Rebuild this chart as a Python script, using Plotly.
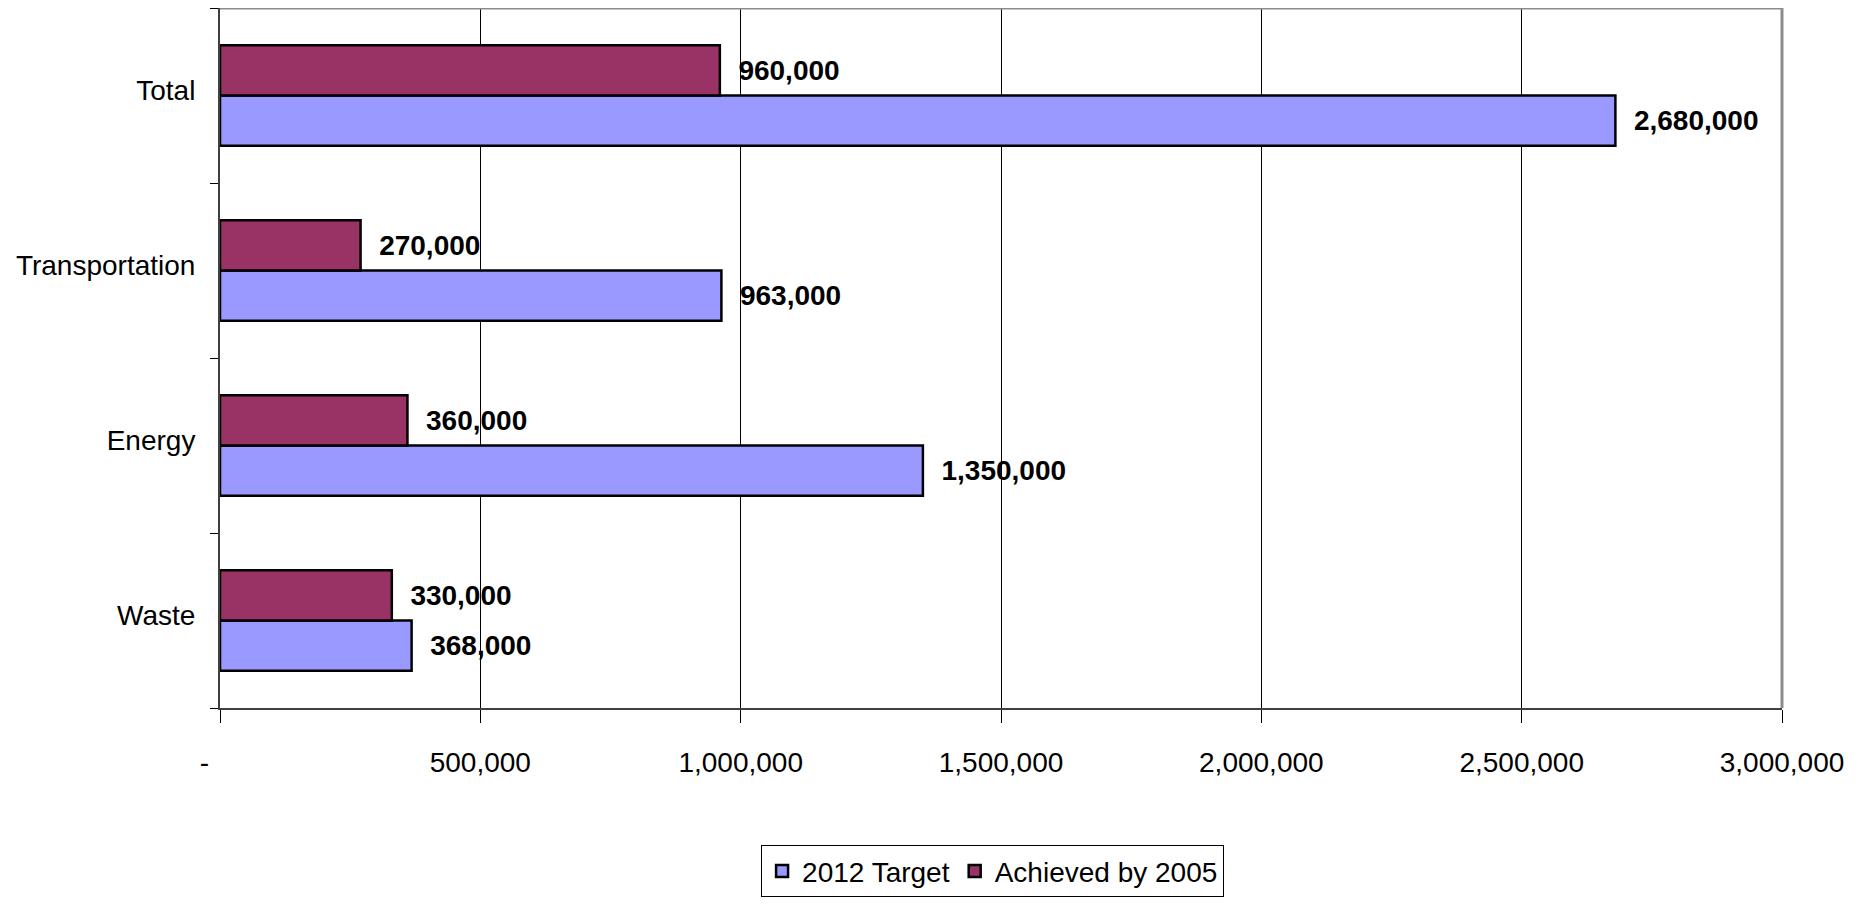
import plotly.graph_objects as go

categories = ["Waste", "Energy", "Transportation", "Total"]
target_2012 = [368000, 1350000, 963000, 2680000]
achieved_2005 = [330000, 360000, 270000, 960000]
x_tickvals = [0, 500000, 1000000, 1500000, 2000000, 2500000, 3000000]
x_ticktext = ["-\u00a0\u00a0\u00a0\u00a0", "500,000", "1,000,000", "1,500,000", "2,000,000", "2,500,000", "3,000,000"]

FONT = "Liberation Sans, Arial, sans-serif"
FS = 28
NB = "\u00a0\u00a0"

fig = go.Figure()
fig.add_trace(go.Bar(
    y=categories, x=target_2012, orientation="h", name="2012 Target",
    marker=dict(color="#9999FF", line=dict(color="black", width=2.5)),
    text=[NB + f"{v:,}" for v in target_2012], textposition="outside",
    textfont=dict(family=FONT, size=FS, color="black", weight="bold"),
    cliponaxis=False,
))
fig.add_trace(go.Bar(
    y=categories, x=achieved_2005, orientation="h", name="Achieved by 2005",
    marker=dict(color="#993366", line=dict(color="black", width=2.5)),
    text=[NB + f"{v:,}" for v in achieved_2005], textposition="outside",
    textfont=dict(family=FONT, size=FS, color="black", weight="bold"),
    cliponaxis=False,
))

fig.update_layout(
    width=1845, height=898,
    margin=dict(l=212, r=71, t=0, b=198, autoexpand=False),
    paper_bgcolor="white", plot_bgcolor="white",
    barmode="group", bargap=0.425, bargroupgap=0,
    font=dict(family=FONT, size=FS, color="black"),
    legend=dict(
        orientation="h", x=0.3464, xanchor="left", y=-0.196, yanchor="top",
        bordercolor="black", borderwidth=1, bgcolor="white",
        font=dict(family=FONT, size=28, color="black"),
        traceorder="normal", itemwidth=30,
    ),
    showlegend=True,
)
fig.update_xaxes(
    range=[0, 3000000], tickvals=x_tickvals, ticktext=x_ticktext,
    showgrid=True, gridcolor="black", gridwidth=1,
    showline=True, linecolor="#404040", linewidth=2,
    ticks="outside", ticklen=13, tickcolor="black", tickwidth=1,
    ticklabelstandoff=15, zeroline=False, automargin=False,
    tickfont=dict(family=FONT, size=FS, color="black"),
)
fig.update_yaxes(
    categoryorder="array", categoryarray=categories,
    showline=True, linecolor="#404040", linewidth=2,
    ticks="outside", ticklen=8, tickcolor="black", tickwidth=1,
    tickson="boundaries", ticklabelstandoff=17, ticklabelshift=-5,
    showgrid=False, automargin=False,
    tickfont=dict(family=FONT, size=FS, color="black"),
)
fig.add_shape(type="line", xref="paper", yref="paper", x0=0, x1=1, y0=1, y1=1,
              line=dict(color="#8c8c8c", width=3))
fig.add_shape(type="line", xref="paper", yref="paper", x0=1, x1=1, y0=0, y1=1,
              line=dict(color="#8c8c8c", width=3))

fig.write_html("out.html")
